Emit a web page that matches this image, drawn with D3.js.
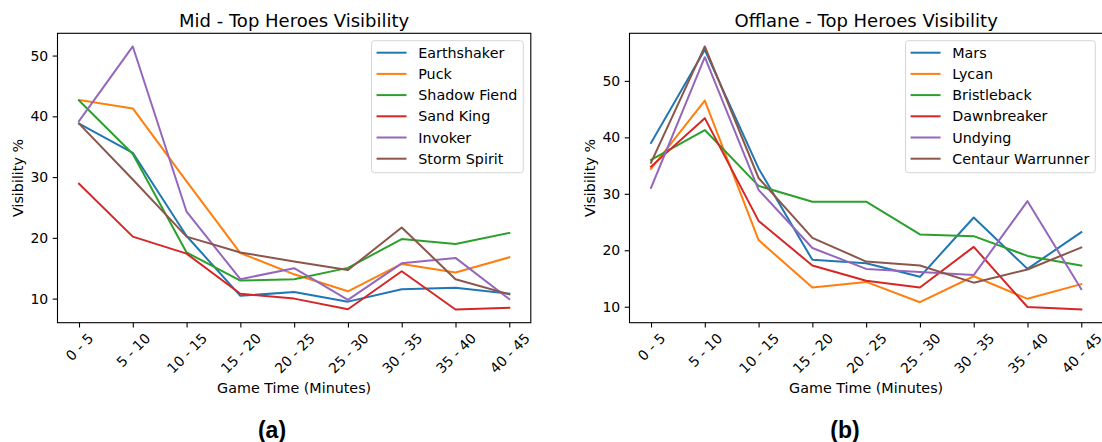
<!DOCTYPE html>
<html><head><meta charset="utf-8">
<script src="https://cdn.jsdelivr.net/npm/d3@7"></script>
<style>body{margin:0;background:#fff}svg{display:block}</style>
</head><body>
<svg id="chart" width="1102" height="442"></svg>
<script>
const categories = ["0 - 5","5 - 10","10 - 15","15 - 20","20 - 25","25 - 30","30 - 35","35 - 40","40 - 45"];
const yTicksMid = [10,20,30,40,50];
const yTicksOff = [10,20,30,40,50];
const colors = ["#1f77b4","#ff7f0e","#2ca02c","#d62728","#9467bd","#8c564b"];

const midNames = ["Earthshaker","Puck","Shadow Fiend","Sand King","Invoker","Storm Spirit"];
const earthshaker = [38.8,34.0,20.3,10.45,11.1,9.5,11.55,11.8,10.8];
const puck        = [42.7,41.3,29.3,17.5,14.0,11.2,15.7,14.3,16.8];
const shadowFiend = [42.6,33.8,17.6,12.97,13.2,15.06,19.8,19.0,20.8];
const sandKing    = [28.9,20.2,17.4,10.8,10.0,8.25,14.5,8.2,8.5];
const invoker     = [39.2,51.5,24.3,13.2,15.0,9.8,15.8,16.7,9.9];
const stormSpirit = [38.8,29.6,20.2,17.6,16.1,14.7,21.7,13.2,10.7];

const offNames = ["Mars","Lycan","Bristleback","Dawnbreaker","Undying","Centaur Warrunner"];
const mars        = [39.0,55.5,34.5,18.3,17.7,15.3,25.8,16.7,23.2];
const lycan       = [34.4,46.5,21.8,13.4,14.4,10.8,15.4,11.4,14.0];
const bristleback = [36.0,41.3,31.4,28.6,28.6,22.8,22.5,19.0,17.3];
const dawnbreaker = [34.8,43.4,25.2,17.3,14.6,13.4,20.6,9.95,9.5];
const undying     = [31.05,54.2,30.7,20.4,16.7,16.15,15.6,28.7,13.1];
const centaur     = [35.5,56.1,32.8,22.2,18.0,17.3,14.26,16.6,20.5];

const svg = d3.select("#chart");
const FONT = "DejaVu Sans, sans-serif";
const TICKFS = 14, LABFS = 14.3, LEGFS = 14.3, TITLEFS = 18;
const yTop = 33.3, yBottom = 322.7;

function panel(x0, x1, title, names, series, yTicks, subLabel, subX, ylabX){
  const g = svg.append("g");
  const x = d3.scaleLinear().domain([-0.4, categories.length - 1 + 0.4]).range([x0, x1]);
  const all = series.flat();
  const mn = d3.min(all), mx = d3.max(all), m = (mx - mn) * 0.05;
  const y = d3.scaleLinear().domain([mn - m, mx + m]).range([yBottom, yTop]);

  const cid = "clip" + Math.round(x0);
  svg.append("clipPath").attr("id", cid).append("rect")
    .attr("x", x0).attr("y", yTop).attr("width", x1 - x0).attr("height", yBottom - yTop);

  const line = d3.line().x((d,i) => x(i)).y(d => y(d));
  const lg = g.append("g").attr("clip-path", `url(#${cid})`);
  series.forEach((s, k) => {
    lg.append("path").attr("d", line(s)).attr("fill","none")
      .attr("stroke", colors[k]).attr("stroke-width", 2)
      .attr("stroke-linejoin","round").attr("stroke-linecap","square");
  });

  const yAx = d3.axisLeft(y).tickValues(yTicks).tickSize(4.8).tickPadding(4.5).tickFormat(d3.format("d"));
  const ya = g.append("g").attr("transform", `translate(${x0},0)`).call(yAx);
  ya.select(".domain").remove();
  ya.selectAll("line").attr("stroke","#000").attr("stroke-width",1.1);
  ya.selectAll("text").attr("font-family",FONT).attr("font-size",TICKFS).attr("fill","#000");

  const xAx = d3.axisBottom(x).tickValues(d3.range(categories.length)).tickSize(4.8).tickFormat(i => categories[i]);
  const xa = g.append("g").attr("transform", `translate(0,${yBottom})`).call(xAx);
  xa.select(".domain").remove();
  xa.selectAll("line").attr("stroke","#000").attr("stroke-width",1.1);
  xa.selectAll("text").attr("font-family",FONT).attr("font-size",TICKFS).attr("fill","#000")
    .attr("dy", null).attr("y", null)
    .attr("text-anchor","middle").attr("dominant-baseline","central")
    .each(function(i){
      const w = this.getComputedTextLength();
      const h = TICKFS * 0.75;
      const off = (w + h) * Math.SQRT1_2 / 2;
      d3.select(this).attr("transform", `translate(0,${4.8 + 4.5 + off}) rotate(-45)`);
    });

  g.append("rect").attr("x", x0).attr("y", yTop).attr("width", x1 - x0).attr("height", yBottom - yTop)
    .attr("fill","none").attr("stroke","#000").attr("stroke-width",1.1);

  g.append("text").attr("x", (x0 + x1)/2).attr("y", 26.5).attr("text-anchor","middle")
    .attr("font-family",FONT).attr("font-size",TITLEFS).attr("fill","#000").text(title);

  g.append("text").attr("x", (x0 + x1)/2).attr("y", 393).attr("text-anchor","middle")
    .attr("font-family",FONT).attr("font-size",LABFS).attr("fill","#000").text("Game Time (Minutes)");
  g.append("text").attr("transform", `translate(${ylabX},${(yTop+yBottom)/2}) rotate(-90)`)
    .attr("text-anchor","middle").attr("dominant-baseline","central")
    .attr("font-family",FONT).attr("font-size",LABFS).attr("fill","#000").text("Visibility %");

  g.append("text").attr("x", subX).attr("y", 438).attr("text-anchor","middle")
    .attr("font-family","Liberation Sans, Arial, sans-serif").attr("font-weight","bold")
    .attr("font-size",23).attr("fill","#000").text(subLabel);

  const leg = g.append("g");
  const rowH = 21.2, firstY = 52.7;
  const tmp = leg.append("g");
  const texts = names.map(n => tmp.append("text").attr("font-family",FONT).attr("font-size",LEGFS).text(n));
  const maxW = d3.max(texts, t => t.node().getComputedTextLength());
  tmp.remove();
  const bw = 5 + 30 + 11.7 + maxW + 6;
  const bx = x1 - 7.5 - bw, by = 40.7;
  leg.append("rect").attr("x", bx).attr("y", by).attr("width", bw).attr("height", 132)
    .attr("rx", 3).attr("fill","#fff").attr("fill-opacity",0.8)
    .attr("stroke","#d5d5d5").attr("stroke-width",1);
  names.forEach((n, k) => {
    const cy = firstY + k * rowH;
    leg.append("line").attr("x1", bx + 5).attr("x2", bx + 35).attr("y1", cy).attr("y2", cy)
      .attr("stroke", colors[k]).attr("stroke-width", 2);
    leg.append("text").attr("x", bx + 46.7).attr("y", cy).attr("dominant-baseline","central")
      .attr("font-family",FONT).attr("font-size",LEGFS).attr("fill","#000").text(n);
  });
}

panel(57.5, 530.8, "Mid - Top Heroes Visibility", midNames,
  [earthshaker, puck, shadowFiend, sandKing, invoker, stormSpirit], yTicksMid, "(a)", 272, 18.3);
panel(629.5, 1102.8, "Offlane - Top Heroes Visibility", offNames,
  [mars, lycan, bristleback, dawnbreaker, undying, centaur], yTicksOff, "(b)", 845, 590);
</script>
</body></html>
